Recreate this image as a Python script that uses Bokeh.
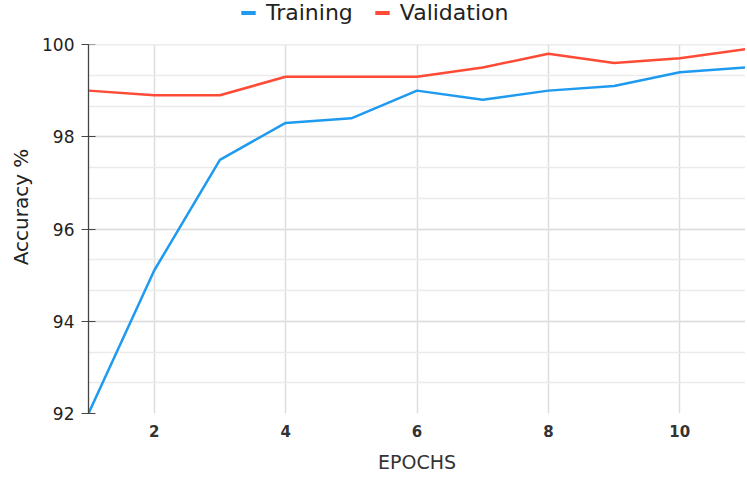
from bokeh.plotting import figure
from bokeh.models import (ColumnDataSource, Legend, LegendItem, Range1d,
                          SingleIntervalTicker, FixedTicker, BoxAnnotation,
                          Title)
from bokeh.embed import file_html
from bokeh.resources import INLINE

epochs = [1, 2, 3, 4, 5, 6, 7, 8, 9, 10, 11]
training = [92.0, 95.1, 97.5, 98.3, 98.4, 99.0, 98.8, 99.0, 99.1, 99.4, 99.5]
validation = [99.0, 98.9, 98.9, 99.3, 99.3, 99.3, 99.5, 99.8, 99.6, 99.7, 99.9]
x_ticks = [2, 4, 6, 8, 10]
series_names = ["Training", "Validation"]
series_colors = ["#1E9BF0", "#FF4B36"]

FONT = "DejaVu Sans"
FH = 413          # frame height (from figure top to y=92)
FW = 657
PLOT_TOP_PX = 44  # where y=100 sits
Y0, Y1 = 92, 100
y_extra = (Y1 - Y0) * PLOT_TOP_PX / (FH - PLOT_TOP_PX)

p = figure(frame_width=FW, frame_height=FH, output_backend="svg",
           toolbar_location=None,
           x_range=Range1d(1, 11), y_range=Range1d(Y0, Y1 + y_extra),
           min_border_left=87, min_border_right=0, min_border_top=0,
           min_border_bottom=0)
p.outline_line_color = None
p.background_fill_color = "white"
p.border_fill_color = "white"

src = ColumnDataSource(dict(x=epochs, train=training, val=validation))
p.line("x", "train", source=src, line_color=series_colors[0], line_width=2.5)
p.line("x", "val", source=src, line_color=series_colors[1], line_width=2.5)

# white area above the plotting region (holds the legend)
p.add_layout(BoxAnnotation(bottom=Y1, fill_color="white", fill_alpha=1,
                           line_alpha=0))

# axes
p.xaxis.ticker = FixedTicker(ticks=x_ticks)
p.xaxis.axis_line_color = None
p.xaxis.major_tick_line_color = None
p.xaxis.major_tick_in = 0
p.xaxis.major_tick_out = 0
p.xaxis.minor_tick_line_color = None
p.xaxis.minor_tick_out = 0
p.xaxis.major_label_text_font = FONT
p.xaxis.major_label_text_font_size = "15px"
p.xaxis.major_label_text_font_style = "bold"
p.xaxis.major_label_text_color = "#333333"
p.xaxis.major_label_standoff = 11
p.xaxis.axis_label = "EPOCHS"
p.xaxis.axis_label_text_font = FONT
p.xaxis.axis_label_text_font_size = "19px"
p.xaxis.axis_label_text_font_style = "normal"
p.xaxis.axis_label_text_color = "#333333"
p.xaxis.axis_label_standoff = 11

yt = SingleIntervalTicker(interval=2, num_minor_ticks=3)
p.yaxis.ticker = yt
p.yaxis.bounds = (Y0, Y1)
p.yaxis.axis_line_color = "#444444"
p.yaxis.axis_line_width = 1.3
p.yaxis.major_tick_line_color = "#444444"
p.yaxis.major_tick_in = 7
p.yaxis.major_tick_out = 7
p.yaxis.minor_tick_line_color = None
p.yaxis.major_label_text_font = FONT
p.yaxis.major_label_text_font_size = "17px"
p.yaxis.major_label_text_color = "#222222"
p.yaxis.major_label_standoff = 7

# y-axis label as a side title so it can be centred on the 92-100 span
ytitle = Title(text="Accuracy %", align="center", offset=26,
               text_font=FONT, text_font_size="20px",
               text_font_style="normal", text_color="#222222",
               standoff=13)
p.add_layout(ytitle, "left")

# grids
p.xgrid.grid_line_color = "#dddddd"
p.xgrid.grid_line_width = 1.5
p.ygrid.grid_line_color = "#dddddd"
p.ygrid.grid_line_width = 1.5
p.ygrid.minor_grid_line_color = "#ebebeb"
p.ygrid.minor_grid_line_width = 1.5

# legend with rectangular swatches, at the top of the figure
nan = float("nan")
items = []
for name, col in zip(series_names, series_colors):
    dummy = p.quad(left=[nan], right=[nan], top=[nan], bottom=[nan],
                   fill_color=col, line_color=None)
    items.append(LegendItem(label=name, renderers=[dummy]))
legend = Legend(items=items, orientation="horizontal",
                location=(151, FH - 25))
legend.border_line_color = None
legend.background_fill_alpha = 0
legend.label_text_font = FONT
legend.label_text_font_size = "22px"
legend.label_text_color = "#222222"
legend.glyph_width = 18
legend.glyph_height = 5
legend.label_standoff = 9
legend.spacing = 20
legend.padding = 0
legend.margin = 0
legend.label_height = 22
p.add_layout(legend, "center")

open("out.html", "w").write(file_html(p, INLINE))
